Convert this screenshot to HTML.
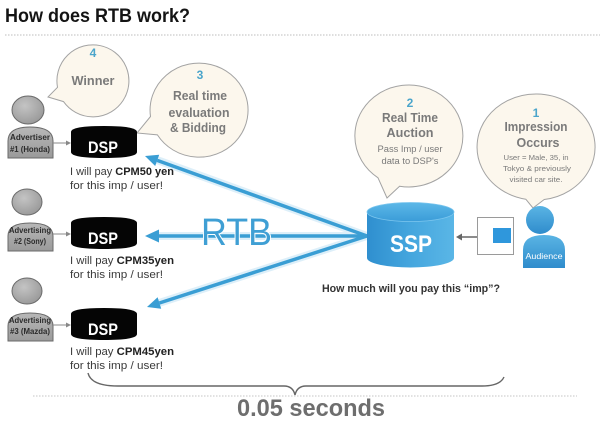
<!DOCTYPE html>
<html><head><meta charset="utf-8"><style>
html,body{margin:0;padding:0;background:#fff;}
svg{display:block;font-family:"Liberation Sans",sans-serif;}
</style></head><body>
<svg width="600" height="422" viewBox="0 0 600 422" xmlns="http://www.w3.org/2000/svg">
<defs>
<linearGradient id="ssp" x1="0" x2="1" y1="0" y2="0">
<stop offset="0" stop-color="#2f8fcf"/><stop offset="0.5" stop-color="#45a6de"/><stop offset="1" stop-color="#5ab6e6"/>
</linearGradient>
<linearGradient id="ssptop" x1="0" x2="0" y1="0" y2="1">
<stop offset="0" stop-color="#5db8e8"/><stop offset="1" stop-color="#3a9cd8"/>
</linearGradient>
<linearGradient id="aud" x1="0" x2="0" y1="0" y2="1">
<stop offset="0" stop-color="#5ab4e4"/><stop offset="1" stop-color="#2f8ccc"/>
</linearGradient>
<radialGradient id="gh" cx="0.4" cy="0.35" r="0.7">
<stop offset="0" stop-color="#c4c4c4"/><stop offset="1" stop-color="#989898"/>
</radialGradient>
<linearGradient id="gb" x1="0" x2="0" y1="0" y2="1">
<stop offset="0" stop-color="#b8b8b8"/><stop offset="1" stop-color="#9a9a9a"/>
</linearGradient>
</defs>

<!-- title -->
<text x="5" y="22" font-size="19.5" font-weight="bold" fill="#141414" textLength="185" lengthAdjust="spacingAndGlyphs">How does RTB work?</text>
<line x1="5" y1="35" x2="600" y2="35" stroke="#bdbdbd" stroke-width="1" stroke-dasharray="1.5 1.5"/>

<!-- bubbles -->
<g fill="#fcf7ed" stroke="#a3a3a3" stroke-width="1">
<path d="M57.5,87.3 L48,97 L63.5,101.6 A36 36 0 1 0 57.5,87.3 Z"/>
<path d="M150.5,116.5 L137,133 L157.4,134.9 A49 47 0 1 0 150.5,116.5 Z"/>
<path d="M399.6,186.2 L387,198 L378,177.8 A54 51 0 1 1 399.6,186.2 Z"/>
<path d="M544.2,199.5 L533,208 L525.8,199.2 A59 53 0 1 1 544.2,199.5 Z"/>
</g>
<g font-weight="bold" text-anchor="middle">
<text x="93" y="57" font-size="12" fill="#4ba5cb">4</text>
<text x="93" y="85" font-size="13" fill="#7a7a7a" textLength="43" lengthAdjust="spacingAndGlyphs">Winner</text>

<text x="200" y="79" font-size="12" fill="#4ba5cb">3</text>
<text x="200" y="100" font-size="13" fill="#7a7a7a" textLength="54" lengthAdjust="spacingAndGlyphs">Real time</text>
<text x="199" y="117" font-size="13" fill="#7a7a7a" textLength="61" lengthAdjust="spacingAndGlyphs">evaluation</text>
<text x="198" y="132" font-size="13" fill="#7a7a7a" textLength="56" lengthAdjust="spacingAndGlyphs">&amp; Bidding</text>

<text x="410" y="107" font-size="12" fill="#4ba5cb">2</text>
<text x="410" y="122" font-size="12.5" fill="#7a7a7a" textLength="56" lengthAdjust="spacingAndGlyphs">Real Time</text>
<text x="410" y="137" font-size="12.5" fill="#7a7a7a" textLength="47" lengthAdjust="spacingAndGlyphs">Auction</text>
<text x="410" y="152" font-size="9" font-weight="normal" fill="#7a7a7a" textLength="65" lengthAdjust="spacingAndGlyphs">Pass Imp / user</text>
<text x="410" y="164" font-size="9" font-weight="normal" fill="#7a7a7a" textLength="57" lengthAdjust="spacingAndGlyphs">data to DSP's</text>

<text x="536" y="117" font-size="12" fill="#4ba5cb">1</text>
<text x="536" y="131" font-size="12.5" fill="#7a7a7a" textLength="63" lengthAdjust="spacingAndGlyphs">Impression</text>
<text x="538" y="147" font-size="12.5" fill="#7a7a7a" textLength="43" lengthAdjust="spacingAndGlyphs">Occurs</text>
<text x="536" y="160" font-size="7.5" font-weight="normal" fill="#7a7a7a" textLength="65" lengthAdjust="spacingAndGlyphs">User = Male, 35, in</text>
<text x="537" y="171" font-size="7.5" font-weight="normal" fill="#7a7a7a" textLength="68" lengthAdjust="spacingAndGlyphs">Tokyo &amp; previously</text>
<text x="536" y="182" font-size="7.5" font-weight="normal" fill="#7a7a7a" textLength="53" lengthAdjust="spacingAndGlyphs">visited car site.</text>
</g>

<!-- advertisers -->
<g stroke="#6a6a6a" stroke-width="1">
<ellipse cx="28" cy="110" rx="16" ry="14" fill="url(#gh)"/>
<path d="M8,158 L8,141 Q8,127 30,127 Q53,127 53,141 L53,158 Z" fill="url(#gb)"/>
<ellipse cx="27" cy="202" rx="15" ry="13" fill="url(#gh)"/>
<path d="M8,251 L8,236 Q8,223 30,223 Q53,223 53,236 L53,251 Z" fill="url(#gb)"/>
<ellipse cx="27" cy="291" rx="15" ry="13" fill="url(#gh)"/>
<path d="M8,341 L8,326 Q8,313 30,313 Q53,313 53,326 L53,341 Z" fill="url(#gb)"/>
</g>
<g font-size="8" font-weight="bold" fill="#2a2a2a" text-anchor="middle">
<text x="30" y="140" textLength="40" lengthAdjust="spacingAndGlyphs">Advertiser</text>
<text x="30" y="152" textLength="40" lengthAdjust="spacingAndGlyphs">#1 (Honda)</text>
<text x="30" y="233" textLength="42" lengthAdjust="spacingAndGlyphs">Advertising</text>
<text x="30" y="244" textLength="32" lengthAdjust="spacingAndGlyphs">#2 (Sony)</text>
<text x="30" y="323" textLength="42" lengthAdjust="spacingAndGlyphs">Advertising</text>
<text x="30" y="334" textLength="40" lengthAdjust="spacingAndGlyphs">#3 (Mazda)</text>
</g>
<!-- small gray arrows -->
<g stroke="#888" stroke-width="1" fill="#888">
<line x1="53" y1="143" x2="67" y2="143"/><path d="M71,143 L66,140.5 L66,145.5 Z" stroke="none"/>
<line x1="53" y1="234" x2="67" y2="234"/><path d="M71,234 L66,231.5 L66,236.5 Z" stroke="none"/>
<line x1="53" y1="325" x2="67" y2="325"/><path d="M71,325 L66,322.5 L66,327.5 Z" stroke="none"/>
</g>

<!-- DSPs -->
<g fill="#050505">
<path d="M71,132 Q71,126 104,126 Q137,126 137,132 L137,152 Q137,158 104,158 Q71,158 71,152 Z"/>
<path d="M71,223 Q71,217 104,217 Q137,217 137,223 L137,243 Q137,249 104,249 Q71,249 71,243 Z"/>
<path d="M71,314 Q71,308 104,308 Q137,308 137,314 L137,334 Q137,340 104,340 Q71,340 71,334 Z"/>
</g>
<g font-size="17" font-weight="bold" fill="#fff" text-anchor="middle">
<text x="103" y="153" textLength="30" lengthAdjust="spacingAndGlyphs">DSP</text>
<text x="103" y="244" textLength="30" lengthAdjust="spacingAndGlyphs">DSP</text>
<text x="103" y="335" textLength="30" lengthAdjust="spacingAndGlyphs">DSP</text>
</g>
<g font-size="11" fill="#3a3a3a">
<text x="70" y="175" textLength="104" lengthAdjust="spacingAndGlyphs">I will pay <tspan font-weight="bold" fill="#222">CPM50 yen</tspan></text>
<text x="70" y="189" textLength="93" lengthAdjust="spacingAndGlyphs">for this imp / user!</text>
<text x="70" y="264" textLength="104" lengthAdjust="spacingAndGlyphs">I will pay <tspan font-weight="bold" fill="#222">CPM35yen</tspan></text>
<text x="70" y="278" textLength="93" lengthAdjust="spacingAndGlyphs">for this imp / user!</text>
<text x="70" y="355" textLength="104" lengthAdjust="spacingAndGlyphs">I will pay <tspan font-weight="bold" fill="#222">CPM45yen</tspan></text>
<text x="70" y="369" textLength="93" lengthAdjust="spacingAndGlyphs">for this imp / user!</text>
</g>

<!-- RTB arrows -->
<g stroke="#9fd3ef" stroke-width="8" opacity="0.35" stroke-linecap="round">
<line x1="367" y1="236" x2="157" y2="160"/>
<line x1="367" y1="236" x2="158" y2="236"/>
<line x1="367" y1="236" x2="159" y2="303"/>
</g>
<g stroke="#3a9ed4" stroke-width="3.5">
<line x1="367" y1="236" x2="157.2" y2="160.4"/>
<line x1="367" y1="236" x2="157" y2="236"/>
<line x1="367" y1="236" x2="159.4" y2="303"/>
</g>
<g fill="#3a9ed4">
<path d="M145,156 L159.2,154.8 L155.2,166 Z"/>
<path d="M145,236 L159,229.5 L159,242.5 Z"/>
<path d="M147,307 L161.2,308.7 L157.6,297.3 Z"/>
</g>
<text x="201" y="245" font-size="38" fill="#3f9fd4" stroke="#ffffff" stroke-width="2" paint-order="stroke" textLength="71" lengthAdjust="spacingAndGlyphs">RTB</text>

<!-- SSP -->
<path d="M367,212 L367,258 A43.5 9.5 0 0 0 454,258 L454,212 Z" fill="url(#ssp)"/>
<ellipse cx="410.5" cy="212" rx="43.5" ry="9.5" fill="url(#ssptop)" stroke="#7cc6ee" stroke-width="0.8"/>
<text x="411" y="252" font-size="24" font-weight="bold" fill="#fff" text-anchor="middle" textLength="42" lengthAdjust="spacingAndGlyphs">SSP</text>

<!-- box + arrow -->
<line x1="477" y1="237" x2="461" y2="237" stroke="#666" stroke-width="1.5"/>
<path d="M456,237 L462,233.5 L462,240.5 Z" fill="#666"/>
<rect x="477.5" y="217.5" width="36" height="37" fill="#fff" stroke="#9a9a9a" stroke-width="1"/>
<rect x="493" y="228" width="18" height="15" fill="#2f97dc"/>

<!-- audience -->
<circle cx="540" cy="220" r="14" fill="url(#aud)"/>
<path d="M523,268 L523,250 Q523,235 544,235 Q565,235 565,250 L565,268 Z" fill="url(#aud)"/>
<text x="544" y="259" font-size="8" fill="#fff" text-anchor="middle" textLength="37" lengthAdjust="spacingAndGlyphs">Audience</text>

<text x="411" y="292" font-size="11" font-weight="bold" fill="#333" text-anchor="middle" textLength="178" lengthAdjust="spacingAndGlyphs">How much will you pay this “imp”?</text>

<!-- brace -->
<path d="M88,373 Q91,386 118,386 L284,386 Q293,386 295,395 Q297,386 306,386 L482,386 Q500,386 504,377" fill="none" stroke="#666" stroke-width="1.4"/>
<line x1="33" y1="396" x2="577" y2="396" stroke="#c4c4c4" stroke-width="1" stroke-dasharray="1.5 1.5"/>
<text x="311" y="416" font-size="24" font-weight="bold" fill="#6e6e6e" text-anchor="middle" textLength="148" lengthAdjust="spacingAndGlyphs">0.05 seconds</text>
</svg>
</body></html>
